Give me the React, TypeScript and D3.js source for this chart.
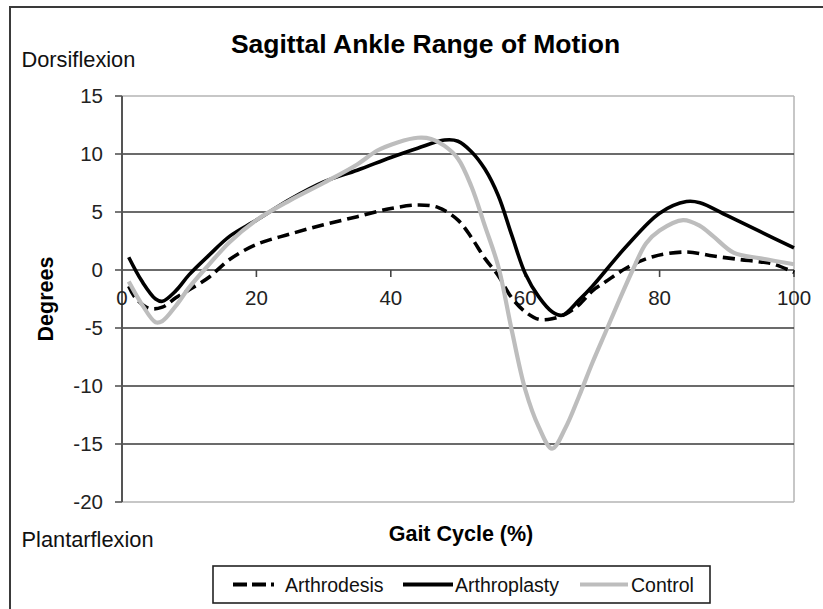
import React from "react";
import * as d3 from "d3";

const arthrodesisX = [1, 2, 4, 6, 8, 10, 13, 16, 20, 25, 30, 35, 40, 44, 47, 50, 52, 54, 56, 58, 60, 62, 64, 66, 68, 70, 72, 75, 79, 84, 88, 92, 95, 97, 100];
const arthrodesisY = [-1.4, -2.4, -3.3, -3.2, -2.4, -1.7, -0.6, 0.9, 2.2, 3.1, 3.9, 4.6, 5.3, 5.6, 5.4, 4.3, 2.8, 1.0, -0.5, -2.4, -3.6, -4.25, -4.2, -3.8, -3.0, -1.8, -1.0, 0.15, 1.15, 1.55, 1.2, 0.9, 0.7, 0.5, -0.2];

const arthroplastyX = [1, 3, 5, 6, 8, 10, 13, 16, 20, 25, 30, 35, 40, 44, 48, 50, 52, 54, 56, 58, 60, 62, 64, 65.5, 68, 70, 75, 80, 84, 86, 90, 95, 100];
const arthroplastyY = [1.1, -1.0, -2.5, -2.7, -1.8, -0.4, 1.3, 2.9, 4.3, 6.1, 7.6, 8.6, 9.7, 10.5, 11.2, 11.1, 10.2, 8.7, 6.4, 3.0, -0.3, -2.3, -3.6, -3.9, -2.6, -1.4, 2.0, 4.9, 5.9, 5.8, 4.7, 3.3, 1.9];

const controlX = [1, 3, 5, 6, 8, 10, 13, 16, 20, 25, 30, 35, 38, 41, 44, 46, 48, 50, 52, 54, 56, 58, 60, 62, 64, 66, 68, 70, 72, 74, 76, 78, 80, 83.5, 86, 88, 91, 95, 100];
const controlY = [-1.0, -3.0, -4.5, -4.4, -3.1, -1.5, 0.5, 2.4, 4.3, 6.0, 7.5, 9.1, 10.3, 11.0, 11.4, 11.3, 10.7, 9.6, 7.2, 3.8, 0.3, -5.2, -10.3, -13.5, -15.4, -13.6, -10.9, -8.0, -5.3, -2.6, 0.0, 2.3, 3.4, 4.3, 3.8, 2.9, 1.5, 1.0, 0.5];

const xTicks = [0, 20, 40, 60, 80, 100];
const yTicks = [15, 10, 5, 0, -5, -10, -15, -20];
const gridValues = [10, 5, 0, -5, -10, -15];

const seriesNames = ["Arthrodesis", "Arthroplasty", "Control"];

export default function App() {
  const x = d3.scaleLinear().domain([0, 100]).range([122, 794]);
  const y = d3.scaleLinear().domain([-20, 15]).range([502, 96]);

  const line = d3
    .line<[number, number]>()
    .x((d) => x(d[0]))
    .y((d) => y(d[1]))
    .curve(d3.curveCatmullRom.alpha(0.5));

  const zip = (xs: number[], ys: number[]) => xs.map((v, i) => [v, ys[i]] as [number, number]);

  const font = "'Liberation Sans', Arial, sans-serif";

  return (
    <svg width={823} height={609} style={{ position: "absolute", left: 0, top: 0 }} fontFamily={font}>
      <rect x={0} y={0} width={823} height={609} fill="#fff" />
      <rect x={10} y={7} width={830} height={620} fill="none" stroke="#3a3a3a" strokeWidth={2} />

      <text x={425.5} y={53} textAnchor="middle" fontSize={26.5} fontWeight="bold" fill="#000">
        Sagittal Ankle Range of Motion
      </text>
      <text x={21.5} y={67} fontSize={21.8} fill="#111">Dorsiflexion</text>
      <text x={21.5} y={547} fontSize={21.8} fill="#111">Plantarflexion</text>

      {/* plot border */}
      <line x1={x(0)} x2={x(100)} y1={y(15)} y2={y(15)} stroke="#b5b5b5" strokeWidth={1.5} />
      <line x1={x(100)} x2={x(100)} y1={y(15)} y2={y(-20)} stroke="#b5b5b5" strokeWidth={1.5} />
      <line x1={x(0)} x2={x(100)} y1={y(-20)} y2={y(-20)} stroke="#b5b5b5" strokeWidth={1.5} />

      {gridValues.map((v) => (
        <line key={v} x1={x(0)} x2={x(100)} y1={y(v)} y2={y(v)} stroke="#3a3a3a" strokeWidth={1.6} />
      ))}

      {/* y axis */}
      <line x1={x(0)} x2={x(0)} y1={y(15)} y2={y(-20)} stroke="#555" strokeWidth={2} />
      {yTicks.map((v) => (
        <g key={v}>
          <line x1={x(0) - 7} x2={x(0)} y1={y(v)} y2={y(v)} stroke="#555" strokeWidth={1.6} />
          <text x={103} y={y(v)} dy="0.36em" textAnchor="end" fontSize={20.5} fill="#222">
            {v}
          </text>
        </g>
      ))}

      {/* x ticks on zero line */}
      {xTicks.map((v) => (
        <g key={v}>
          {v > 0 && <line x1={x(v)} x2={x(v)} y1={y(0)} y2={y(0) + 7} stroke="#444" strokeWidth={1.6} />}
          <text x={x(v)} y={305} textAnchor="middle" fontSize={20.5} fill="#222">
            {v}
          </text>
        </g>
      ))}

      <text
        transform={`translate(53, ${(y(15) + y(-20)) / 2}) rotate(-90)`}
        textAnchor="middle"
        fontSize={21.5}
        fontWeight="bold"
        fill="#000"
      >
        Degrees
      </text>
      <text x={461} y={541} textAnchor="middle" fontSize={21.5} fontWeight="bold" fill="#000">
        Gait Cycle (%)
      </text>

      {/* series */}
      <path d={line(zip(arthrodesisX, arthrodesisY)) || ""} fill="none" stroke="#000" strokeWidth={3.6} strokeDasharray="12 6" />
      <path d={line(zip(arthroplastyX, arthroplastyY)) || ""} fill="none" stroke="#000" strokeWidth={3.6} />
      <path d={line(zip(controlX, controlY)) || ""} fill="none" stroke="#bdbdbd" strokeWidth={4.2} />

      {/* legend */}
      <rect x={213} y={566} width={497} height={37} fill="#fff" stroke="#222" strokeWidth={1.6} />
      <line x1={233} x2={283} y1={584.5} y2={584.5} stroke="#000" strokeWidth={4} strokeDasharray="14 5 14 5 3 20" />
      <text x={285} y={592} fontSize={19.5} fill="#111">{seriesNames[0]}</text>
      <line x1={403} x2={453} y1={584.5} y2={584.5} stroke="#000" strokeWidth={4} />
      <text x={455} y={592} fontSize={19.5} fill="#111">{seriesNames[1]}</text>
      <line x1={580} x2={628} y1={584.5} y2={584.5} stroke="#bdbdbd" strokeWidth={4.2} />
      <text x={631} y={592} fontSize={19.5} fill="#111">{seriesNames[2]}</text>
    </svg>
  );
}
